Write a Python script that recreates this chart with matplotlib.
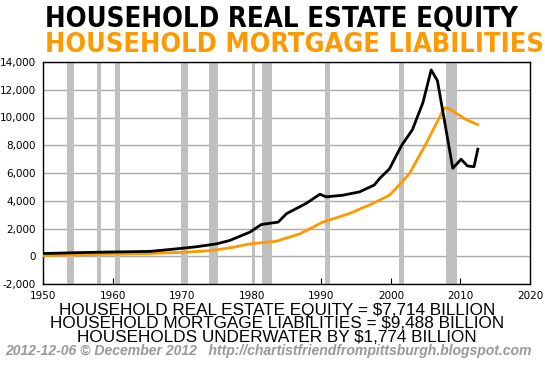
import numpy as np
import matplotlib
matplotlib.use("Agg")
import matplotlib.pyplot as plt
from matplotlib import font_manager as fm
from matplotlib.ticker import FuncFormatter

# household real estate equity ($ billion)
eq_years = [1950, 1952, 1955, 1958, 1960, 1963, 1965.4, 1968.9, 1972, 1974.9,
            1976.8, 1979.7, 1981.4, 1983.8, 1985, 1987.8, 1989.8, 1990.7,
            1993.1, 1995.5, 1997.6, 1998.4, 1999.8, 2001.5, 2003.1, 2004.6,
            2005.8, 2006.7, 2008.9, 2010.1, 2011.0, 2011.95, 2012.5]
eq_vals = [200, 220, 260, 290, 310, 330, 350, 520, 680, 890,
           1130, 1730, 2290, 2460, 3070, 3800, 4470, 4280,
           4400, 4640, 5130, 5610, 6300, 7950, 9120, 11060,
           13430, 12640, 6340, 6990, 6510, 6450, 7714]

# household mortgage liabilities ($ billion)
mort_years = [1950, 1955, 1960, 1965.4, 1970, 1974, 1977.3, 1979.7, 1983.5,
              1986.9, 1990.2, 1994, 1997.4, 1999.8, 2001.2, 2002.7, 2005.1,
              2007.7, 2008.4, 2010.8, 2012.5]
mort_vals = [50, 100, 150, 200, 280, 400, 640, 890, 1080,
             1610, 2460, 3070, 3800, 4400, 5130, 5980, 8160,
             10700, 10630, 9850, 9488]

# recessions (start, end)
recessions = [(1953.5, 1954.4), (1957.7, 1958.3), (1960.3, 1961.1),
              (1969.9, 1970.9), (1973.9, 1975.2), (1980.0, 1980.5),
              (1981.5, 1982.9), (1990.5, 1991.2), (2001.2, 2001.9),
              (2007.9, 2009.5)]

W, H = 545, 372
fig = plt.figure(figsize=(W/100, H/100), dpi=100)
ax = fig.add_axes([43/W, (H-284)/H, 487/W, 222/H])

for s, e in recessions:
    ax.axvspan(s, e, color="#c0c0c0", lw=0, zorder=1)

ax.plot(mort_years, mort_vals, color="#ff9900", lw=2, zorder=3)
ax.plot(eq_years, eq_vals, color="black", lw=2, zorder=4)

ax.set_xlim(1950, 2020)
ax.set_ylim(-2000, 14000)
ax.set_xticks(range(1950, 2021, 10))
ax.set_yticks(range(-2000, 14001, 2000))
ax.yaxis.set_major_formatter(FuncFormatter(lambda v, p: f"{int(v):,}"))
ax.grid(axis="y", color="#aaaaaa", lw=1, zorder=0)
ax.set_axisbelow(True)
ax.tick_params(axis="x", direction="in", length=4, labelsize=7.5, pad=5)
ax.tick_params(axis="y", length=0, labelsize=7.5, pad=5)
for sp in ax.spines.values():
    sp.set_linewidth(1)


# look for a narrow bold face for the headline
def narrow_bold():
    for f in fm.fontManager.ttflist:
        n = f.name + " " + str(f.stretch)
        if ("Narrow" in n or "Condensed" in n or "condensed" in n) and \
                f.weight in ("bold", 700, "700") and f.style == "normal":
            return fm.FontProperties(fname=f.fname)
    return fm.FontProperties(family="Liberation Sans", weight="bold")


tprop = narrow_bold()


def fit(t, width):
    # shrink/grow font so the text spans the given pixel width
    r = fig.canvas.get_renderer()
    for _ in range(3):
        w = t.get_window_extent(r).width
        t.set_fontsize(t.get_fontsize() * width / w)


t1 = fig.text(45/W, (H-26.7)/H, "HOUSEHOLD REAL ESTATE EQUITY", ha="left",
              va="baseline", fontproperties=tprop, fontsize=20, color="black")
t2 = fig.text(45/W, (H-52)/H, "HOUSEHOLD MORTGAGE LIABILITIES", ha="left",
              va="baseline", fontproperties=tprop, fontsize=20, color="#ff9900")
fit(t1, 473)
fit(t2, 498)

foot = ["HOUSEHOLD REAL ESTATE EQUITY = $7,714 BILLION",
        "HOUSEHOLD MORTGAGE LIABILITIES = $9,488 BILLION",
        "HOUSEHOLDS UNDERWATER BY $1,774 BILLION"]
foot_base = [314.5, 328.5, 342.5]
for t, b in zip(foot, foot_base):
    fig.text(277/W, (H-b)/H, t, ha="center", va="baseline",
             fontsize=12.3, family="Liberation Sans")

tf = fig.text(5/W, (H-355.5)/H,
              "2012-12-06 \u00a9 December 2012   http://chartistfriendfrompittsburgh.blogspot.com",
              ha="left", va="baseline", fontsize=8.5, fontweight="bold",
              style="italic", family="Liberation Sans", color="#999999")
fit(tf, 532)

fig.savefig("out.png", dpi=100)
